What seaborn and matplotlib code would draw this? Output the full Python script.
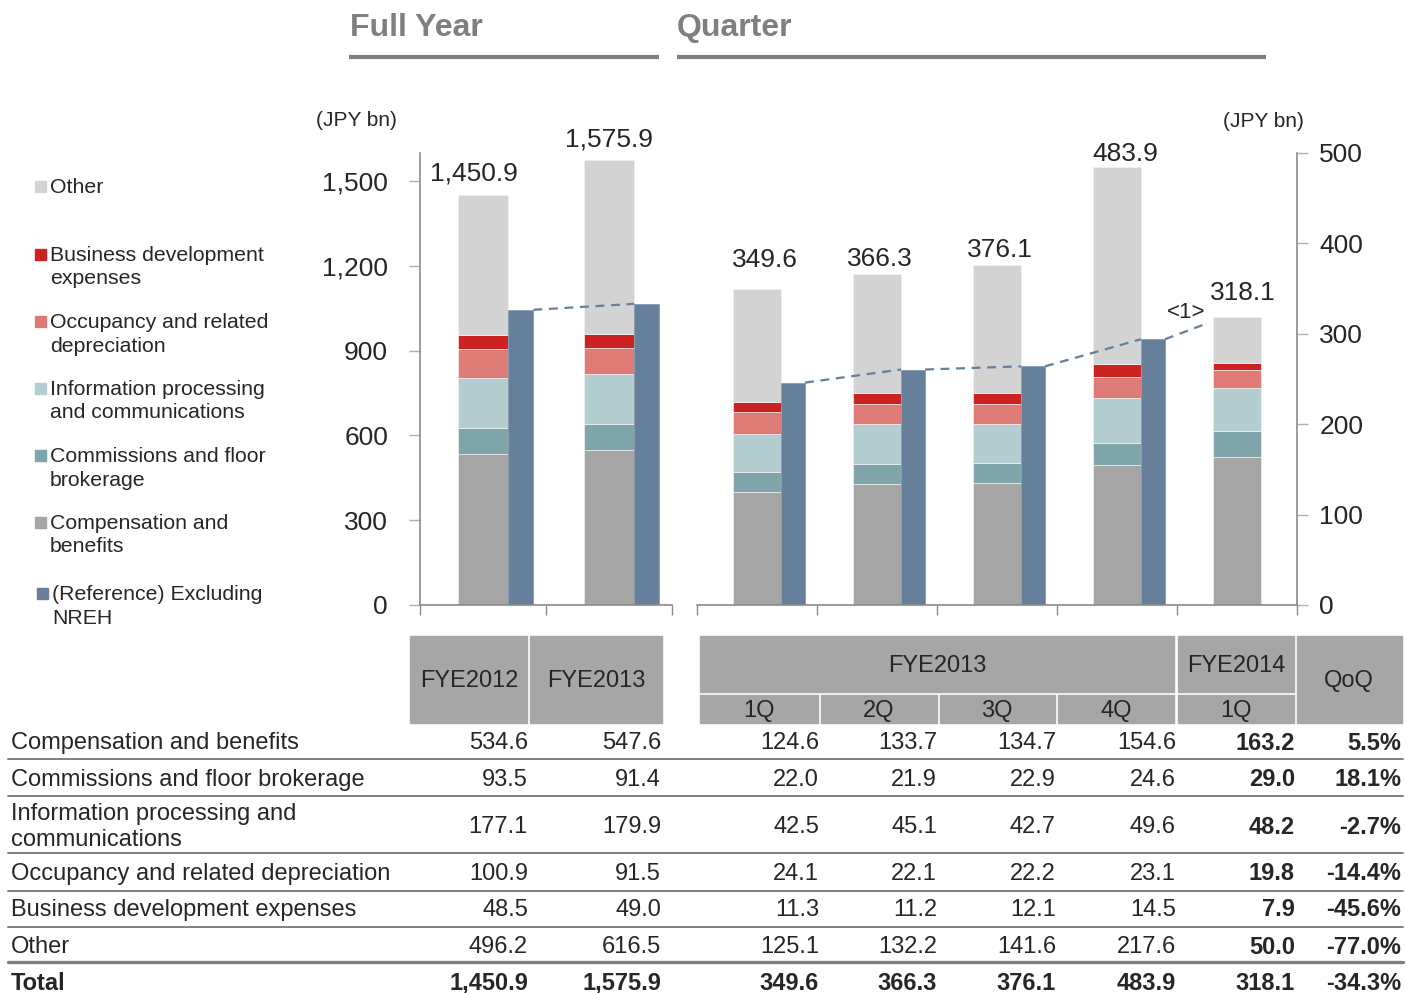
import numpy as np
import matplotlib
matplotlib.use('Agg')
import matplotlib.pyplot as plt
from matplotlib.patches import Rectangle
from matplotlib.lines import Line2D
import seaborn as sns

# =========================================================
# Data (JPY bn)
# =========================================================

fy_labels = ['FYE2012', 'FYE2013']
q_labels = ['1Q', '2Q', '3Q', '4Q', '1Q']

comp_fy = [534.6, 547.6]
comm_fy = [93.5, 91.4]
info_fy = [177.1, 179.9]
occ_fy = [100.9, 91.5]
bus_fy = [48.5, 49.0]
other_fy = [496.2, 616.5]
total_fy = [1450.9, 1575.9]
ref_fy = [1045, 1066]          # (Reference) Excluding NREH

comp_q = [124.6, 133.7, 134.7, 154.6, 163.2]
comm_q = [22.0, 21.9, 22.9, 24.6, 29.0]
info_q = [42.5, 45.1, 42.7, 49.6, 48.2]
occ_q = [24.1, 22.1, 22.2, 23.1, 19.8]
bus_q = [11.3, 11.2, 12.1, 14.5, 7.9]
other_q = [125.1, 132.2, 141.6, 217.6, 50.0]
total_q = [349.6, 366.3, 376.1, 483.9, 318.1]
ref_q = [246, 260.5, 264, 294]  # FYE2013 quarters excluding NREH
ref_q_end = 312                 # end of the dashed <1> line

qoq = ['5.5%', '18.1%', '-2.7%', '-14.4%', '-45.6%', '-77.0%', '-34.3%']

row_names = ['Compensation and benefits', 'Commissions and floor brokerage',
             'Information processing and\ncommunications',
             'Occupancy and related depreciation', 'Business development expenses',
             'Other', 'Total']
legend_names = ['Other', 'Business development\nexpenses', 'Occupancy and related\ndepreciation',
                'Information processing\nand communications', 'Commissions and floor\nbrokerage',
                'Compensation and\nbenefits', '(Reference) Excluding\nNREH']

# bottom -> top colours
colors = ['#a5a5a5', '#7fa5aa', '#b4cdd1', '#df7b76', '#cc2222', '#d3d3d3']
ref_color = '#667f9b'
axis_color = '#8a8a8a'

# =========================================================
# Figure
# =========================================================

sns.set_theme(style='white')
plt.rcParams['font.family'] = ['Liberation Sans', 'DejaVu Sans']

W, H = 1407, 993
fig = plt.figure(figsize=(W / 100, H / 100), dpi=100)


def fx(x):
    return x / W


def fy(y):
    return 1 - y / H


def stacked(ax, stacks, totals, refs, lab_dx, lab_dy):
    n = len(totals)
    x = np.arange(n)
    bottom = np.zeros(n)
    for vals, c in zip(stacks, colors):
        ax.bar(x, vals, width=0.4, bottom=bottom, color=c, edgecolor='#f2f2f2', linewidth=0.5)
        bottom += np.array(vals)
    ax.bar(x[:len(refs)] + 0.2, refs, width=0.2, align='edge', color=ref_color,
           edgecolor='#7f94ac', linewidth=0.5)
    # dashed link: right edge of one reference bar -> left edge of the next
    for i in range(len(refs) - 1):
        ax.plot([i + 0.4, i + 1.2], [refs[i], refs[i + 1]], color=ref_color,
                lw=1.6, ls=(0, (4, 3)), zorder=5)
    for i, t in enumerate(totals):
        ax.annotate(f'{t:,.1f}', (i, t), xytext=(lab_dx[i] * 0.72, lab_dy[i] * 0.72),
                    textcoords='offset points', ha='center', va='center', fontsize=19)
    ax.set_xlim(-0.5, n - 0.5)
    ax.set_xticks([])
    ax.set_xticks(np.arange(n + 1) - 0.5, minor=True)
    ax.tick_params(axis='x', which='minor', length=7, color=axis_color, width=1,
                   direction='out', bottom=True)
    ax.set_facecolor('none')
    for s in ax.spines.values():
        s.set_color(axis_color)
        s.set_linewidth(1.2)
    ax.spines['top'].set_visible(False)


# ---- Full year ----
ax1 = fig.add_axes([fx(420), fy(605), fx(252), 452 / H])
stacked(ax1, [comp_fy, comm_fy, info_fy, occ_fy, bus_fy, other_fy], total_fy, ref_fy,
        [-9, 0], [22, 20])
ax1.set_ylim(0, 1600)
ax1.set_yticks(range(0, 1501, 300))
ax1.set_yticklabels([f'{v:,}' for v in range(0, 1501, 300)])
ax1.spines['right'].set_visible(False)
ax1.tick_params(axis='y', length=8, color='#b0b0b0', width=1, labelsize=19, pad=15,
                left=True, direction='out')

# ---- Quarter ----
ax2 = fig.add_axes([fx(697), fy(605), fx(600), 452 / H])
stacked(ax2, [comp_q, comm_q, info_q, occ_q, bus_q, other_q], total_q, ref_q,
        [8, 3, 3, 8, 6], [29, 15, 15, 14, 24])
ax2.plot([3.4, 3.76], [ref_q[-1], ref_q_end], color=ref_color, lw=1.6, ls=(0, (4, 3)), zorder=5)
ax2.text(3.58, 324, '<1>', ha='center', va='center', fontsize=16)
ax2.set_ylim(0, 500)
ax2.set_yticks(range(0, 501, 100))
ax2.yaxis.tick_right()
ax2.spines['left'].set_visible(False)
ax2.tick_params(axis='y', length=8, color='#b0b0b0', width=1, labelsize=19, pad=8,
                right=True, left=False, direction='out')

# ---- Titles ----
fig.text(fx(350), fy(28), 'Full Year', fontsize=23, weight='bold', color='#7f7f7f', va='center')
fig.text(fx(677), fy(28), 'Quarter', fontsize=23, weight='bold', color='#7f7f7f', va='center')
fig.add_artist(Line2D([fx(349), fx(659)], [fy(57), fy(57)], lw=3, color='#7f7f7f',
                      solid_capstyle='butt'))
fig.add_artist(Line2D([fx(677), fx(1266)], [fy(57), fy(57)], lw=3, color='#7f7f7f',
                      solid_capstyle='butt'))
fig.text(fx(356), fy(120), '(JPY bn)', ha='center', va='center', fontsize=15)
fig.text(fx(1263), fy(122), '(JPY bn)', ha='center', va='center', fontsize=15)

# ---- Legend (top to bottom) ----
leg_colors = colors[::-1] + [ref_color]
leg_y = [186, 254, 321, 388, 455, 522, 593]
for name, c, y in zip(legend_names, leg_colors, leg_y):
    mx = 35 if c != ref_color else 37
    fig.add_artist(Rectangle((fx(mx), fy(y + 6)), 11 / W, 11 / H, color=c,
                             transform=fig.transFigure))
    fig.text(fx(50 if c != ref_color else 52), fy(y - 8), name, fontsize=15.3, va='top',
             linespacing=1.3)

# =========================================================
# Table
# =========================================================

hdr = '#a6a6a6'
boxes = [(410, 636, 527, 723), (530, 636, 662, 723), (700, 636, 1174, 692),
         (700, 695, 818, 723), (821, 695, 937, 723), (940, 695, 1055, 723),
         (1058, 695, 1174, 723), (1178, 636, 1294, 692), (1178, 695, 1294, 723),
         (1297, 636, 1402, 723)]
for x0, y0, x1, y1 in boxes:
    fig.add_artist(Rectangle((fx(x0), fy(y1)), (x1 - x0) / W, (y1 - y0) / H,
                             color=hdr, transform=fig.transFigure))

tfs = 17
fig.text(fx(469), fy(681), fy_labels[0], ha='center', va='center', fontsize=tfs)
fig.text(fx(596), fy(681), fy_labels[1], ha='center', va='center', fontsize=tfs)
fig.text(fx(937), fy(666), 'FYE2013', ha='center', va='center', fontsize=tfs)
fig.text(fx(1236), fy(666), 'FYE2014', ha='center', va='center', fontsize=tfs)
fig.text(fx(1349), fy(681), 'QoQ', ha='center', va='center', fontsize=tfs)
for q, xc in zip(q_labels, [759, 879, 997, 1116, 1236]):
    fig.text(fx(xc), fy(711), q, ha='center', va='center', fontsize=tfs)

columns = [comp_fy, comm_fy, info_fy, occ_fy, bus_fy, other_fy, total_fy]
qcolumns = [comp_q, comm_q, info_q, occ_q, bus_q, other_q, total_q]
col_right = [528, 661, 819, 937, 1056, 1176, 1295, 1401]
row_y = [743, 780, 827, 874, 910, 947, 983]

for r, (name, fyv, qv, pct) in enumerate(zip(row_names, columns, qcolumns, qoq)):
    total_row = r == len(row_names) - 1
    w = 'bold' if total_row else 'normal'
    y = fy(row_y[r])
    fig.text(fx(11), y, name, ha='left', va='center', fontsize=tfs, weight=w)
    vals = list(fyv) + list(qv)
    for j, v in enumerate(vals):
        bold = total_row or j == 6
        fig.text(fx(col_right[j]), y, f'{v:,.1f}', ha='right', va='center', fontsize=tfs,
                 weight='bold' if bold else 'normal')
    fig.text(fx(col_right[7]), y, pct, ha='right', va='center', fontsize=tfs, weight='bold')

for ly in [759, 796, 853, 891, 927]:
    fig.add_artist(Line2D([fx(8), fx(1403)], [fy(ly), fy(ly)], lw=1.4, color='#808080'))
fig.add_artist(Line2D([fx(8), fx(1403)], [fy(962), fy(962)], lw=2.4, color='#808080'))

plt.savefig('out.png', dpi=100)
